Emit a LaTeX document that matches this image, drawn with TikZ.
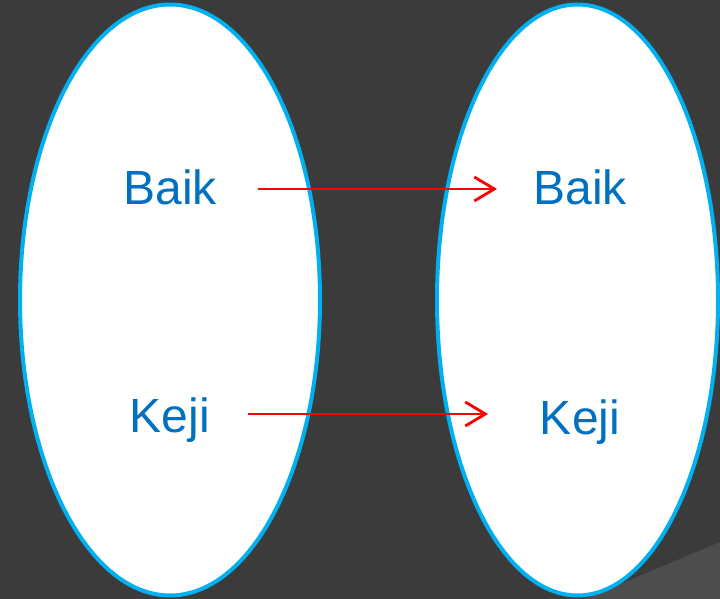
\documentclass[tikz,border=0pt]{standalone}
\usepackage{fontspec}
\setmainfont{Liberation Sans}
\usetikzlibrary{arrows.meta,shapes.geometric}
\definecolor{bgdark}{HTML}{3B3B3B}
\definecolor{bglight}{HTML}{4D4D4D}
\definecolor{ringblue}{HTML}{00B0F0}
\definecolor{textblue}{HTML}{0070C0}
\tikzset{
  setring/.style={draw=ringblue, line width=4pt, fill=white},
  lbl/.style={text=textblue, font=\fontsize{48}{56}\selectfont, inner sep=0pt, anchor=base},
  maparrow/.style={draw=red, line width=2.4pt, -{Straight Barb[length=20pt,width=24pt,line width=2.8pt]}}
}
\begin{document}
\begin{tikzpicture}[x=1pt,y=-1pt]
\fill[bgdark] (0,0) rectangle (720,599);
\useasboundingbox (0,0) rectangle (720,599);
\fill[bglight] (585,599) -- (720,542) -- (720,599) -- cycle;
\node[setring, ellipse, minimum width=300pt, minimum height=591pt, inner sep=0pt] (L) at (170,300) {};
\node[setring, ellipse, minimum width=281pt, minimum height=591pt, inner sep=0pt] (R) at (577.5,300) {};
\node[lbl] (lb) at (170,204) {Baik};
\node[lbl] (lk) at (170,432) {Keji};
\node[lbl] (rb) at (580,204) {Baik};
\node[lbl] (rk) at (580,434) {Keji};
\coordinate (a1) at (258,189);
\coordinate (a2) at (497,189);
\coordinate (b1) at (248,414);
\coordinate (b2) at (488,414);
\draw[maparrow] (a1) -- (a2);
\draw[maparrow] (b1) -- (b2);
\end{tikzpicture}
\end{document}
